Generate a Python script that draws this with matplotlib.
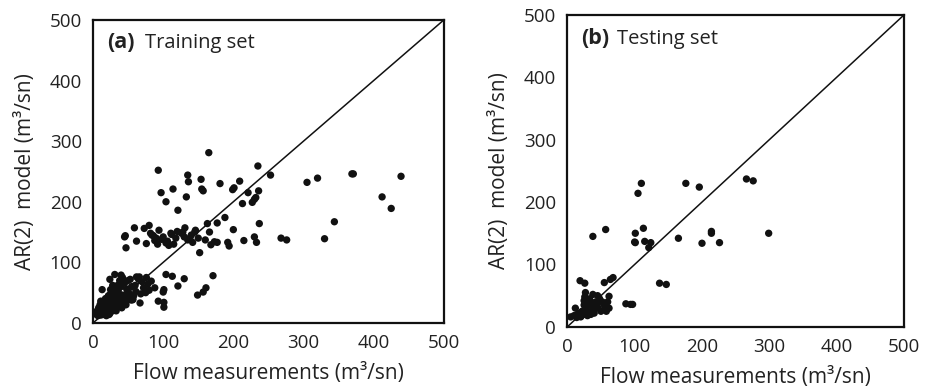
import numpy as np
import matplotlib.pyplot as plt

plt.rcParams['font.family'] = ['Open Sans', 'DejaVu Sans']

# training set: flow measurements (x) vs AR(2) model (y)
train_x = [165, 93, 135, 235, 253, 154, 136, 209, 181, 199, 201, 155, 157, 114, 97, 221, 236,
           230, 232, 227, 213, 104, 133, 121, 177, 188, 237, 200, 163, 166, 146, 131, 120, 111,
           94, 80, 73, 59, 62, 45, 46, 47, 76, 84, 90, 98, 104, 108, 112, 118, 126, 130, 135,
           140, 145, 150, 152, 160, 168, 173, 177, 192, 194, 215, 230, 233, 268, 276, 305, 320,
           344, 330, 369, 371, 412, 425, 439, 86, 88, 92, 82, 128, 138, 142, 106, 100, 115,
           # 30-100 band
           31, 40, 24, 53, 62, 66, 76, 83, 104, 113, 130, 171, 121, 88, 80, 75, 100, 101, 161,
           157, 149, 93, 101, 101, 67, 57, 35, 45, 50, 55, 60, 65, 70, 72, 78, 42, 48, 52, 58,
           38, 44, 36, 28, 33, 61, 68, 56,
           # dense cluster near origin
           5, 6, 7, 8, 8, 9, 10, 10, 11, 11, 12, 12, 13, 13, 14, 14, 15, 15, 16, 16, 17, 17, 18,
           18, 19, 19, 20, 20, 21, 21, 22, 22, 23, 23, 24, 24, 25, 25, 26, 26, 27, 27, 28, 28,
           29, 29, 30, 30, 31, 32, 32, 33, 34, 34, 35, 36, 37, 38, 39, 40, 41, 42, 43, 44, 45,
           46, 47, 48, 50, 52, 54, 9, 12, 15, 18, 21, 24, 27, 30, 14, 17, 20, 23, 26, 29, 11,
           16, 19, 22, 25, 28, 31, 35, 38, 41, 44, 47, 20, 25, 30, 35, 40, 13, 18, 23, 33,
           18, 22, 26, 30, 34, 38, 24, 28, 32, 36]
train_y = [281, 252, 244, 259, 244, 237, 233, 234, 230, 220, 223, 221, 218, 221, 215, 215, 218,
           204, 207, 199, 197, 200, 208, 186, 165, 174, 164, 154, 164, 150, 153, 157, 151, 148,
           153, 161, 156, 157, 135, 142, 144, 124, 131, 145, 140, 138, 132, 128, 146, 140, 148,
           142, 137, 145, 150, 140, 116, 137, 129, 134, 133, 133, 127, 136, 142, 133, 140, 137,
           232, 239, 167, 139, 246, 246, 208, 189, 242, 144, 136, 130, 148, 150, 140, 133, 135,
           142, 130,
           80, 79, 72, 72, 76, 76, 75, 69, 80, 77, 73, 78, 61, 58, 54, 50, 51, 55, 58,
           51, 46, 36, 34, 26, 33, 39, 62, 66, 70, 60, 62, 72, 68, 58, 64, 75, 56, 48, 45,
           70, 40, 55, 62, 45, 52, 48, 38,
           14, 20, 12, 18, 25, 15, 22, 30, 13, 19, 16, 26, 20, 33, 14, 28, 18, 24, 36, 22,
           30, 17, 26, 40, 20, 32, 24, 38, 18, 28, 44, 22, 34, 25, 40, 16, 30, 47, 22, 36, 28,
           42, 20, 34, 26, 48, 30, 38, 32, 26, 42, 35, 30, 46, 38, 28, 40, 34, 44, 32, 38, 46,
           40, 36, 45, 42, 35, 48, 44, 40, 38, 15, 24, 28, 14, 32, 18, 22, 27, 34, 20, 38, 31,
           24, 42, 36, 16, 12, 25, 30, 35, 24, 50, 28, 25, 32, 30, 38, 55, 58, 52, 60, 55, 27,
           14, 20,
           40, 45, 50, 55, 58, 62, 28, 33, 42, 50]

# testing set
test_x = [110, 105, 176, 196, 266, 276, 57, 38, 101, 113, 100, 101, 115, 124, 121, 165, 200,
          214, 214, 226, 299, 137, 147, 68, 64, 55, 19, 26, 62, 38, 87, 94, 97,
          5, 10, 12, 15, 18, 20, 22, 24, 25, 25, 26, 27, 28, 28, 30, 30, 32, 33, 35, 38, 40,
          42, 44, 46, 48, 50, 52, 55, 56, 58, 60, 62, 45, 14, 21, 29, 36]
test_y = [230, 214, 230, 224, 237, 234, 156, 145, 150, 158, 136, 135, 137, 135, 127, 142, 134,
          153, 150, 135, 150, 70, 68, 79, 76, 71, 74, 70, 49, 52, 37, 36, 36,
          16, 18, 30, 20, 22, 16, 25, 20, 35, 42, 48, 55, 40, 30, 18, 25, 35, 45, 20, 28, 22,
          40, 35, 30, 45, 25, 40, 35, 28, 25, 40, 30, 50, 15, 18, 22, 38]

ticks = [0, 100, 200, 300, 400, 500]
ylab = 'AR(2)  model (m³/sn)'
xlab = 'Flow measurements (m³/sn)'

fig = plt.figure(figsize=(9.33, 3.91), dpi=100)
ax1 = fig.add_axes([0.0997, 0.174, 0.376, 0.775])
ax2 = fig.add_axes([0.608, 0.164, 0.361, 0.798])

for ax, x, y, tag, name in [(ax1, train_x, train_y, '(a)', 'Training set'),
                            (ax2, test_x, test_y, '(b)', 'Testing set')]:
    ax.plot([0, 500], [0, 500], color='#111111', lw=1.1, zorder=1)
    ax.scatter(x, y, s=28, color='#111111', edgecolors='none', zorder=2)
    ax.set_xlim(0, 500)
    ax.set_ylim(0, 500)
    ax.set_xticks(ticks)
    ax.set_yticks(ticks)
    ax.tick_params(length=0, labelsize=13.5, pad=8, colors='#222222')
    for s in ax.spines.values():
        s.set_linewidth(1.6)
        s.set_color('#111111')
    ax.set_xlabel(xlab, fontsize=15, labelpad=8, color='#222222')
    ax.set_ylabel(ylab, fontsize=15, labelpad=10, color='#222222')
    ax.text(20, 462, tag, fontsize=15.5, fontweight='bold', va='center', color='#222222')
    ax.text(20 + 54, 462, name, fontsize=14.5, va='center', color='#222222')

fig.savefig('out.png', dpi=100)
